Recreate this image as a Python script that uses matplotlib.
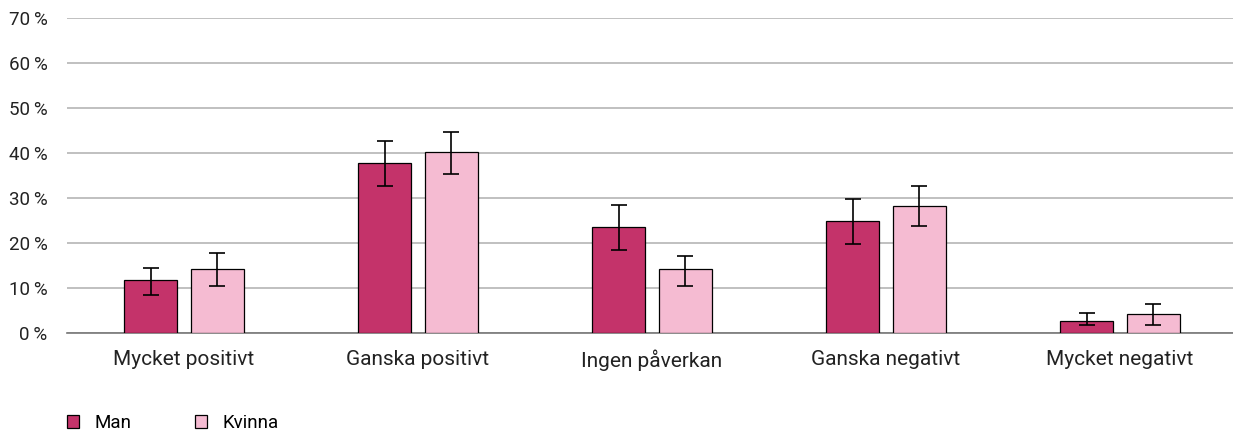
import numpy as np
import matplotlib.pyplot as plt
from matplotlib.patches import Patch

plt.rcParams['font.family'] = ['Roboto', 'DejaVu Sans']

categories = ['Mycket positivt', 'Ganska positivt', 'Ingen påverkan', 'Ganska negativt', 'Mycket negativt']
series = ['Man', 'Kvinna']
man = [11.7, 37.7, 23.6, 24.9, 2.7]
man_lo = [8.4, 32.6, 18.4, 19.8, 1.8]
man_hi = [14.4, 42.7, 28.4, 29.8, 4.4]
kvinna = [14.2, 40.3, 14.2, 28.2, 4.2]
kvinna_lo = [10.4, 35.3, 10.4, 23.8, 1.8]
kvinna_hi = [17.8, 44.7, 17.1, 32.7, 6.4]
yticks = [0, 10, 20, 30, 40, 50, 60, 70]

colors = ['#c4336a', '#f5bbd2']

fig = plt.figure(figsize=(12.33, 4.34), dpi=100)
# axes runs a little past the right edge of the figure, as in the original
ax = fig.add_axes([67/1233, 1-333/434, 1170/1233, (333-18)/434])

X = np.arange(len(categories))
w = 0.225
off = 0.142

for vals, lo, hi, dx, c in [(man, man_lo, man_hi, -off, colors[0]),
                            (kvinna, kvinna_lo, kvinna_hi, off, colors[1])]:
    vals = np.array(vals)
    err = [vals - np.array(lo), np.array(hi) - vals]
    ax.bar(X + dx, vals, width=w, color=c, edgecolor='black', linewidth=0.9, zorder=3)
    ax.errorbar(X + dx, vals, yerr=err, fmt='none', ecolor='black', elinewidth=1.2,
                capsize=5.5, capthick=1.2, zorder=4)

ax.set_xlim(-0.5, len(categories) - 0.5)
ax.set_ylim(0, 70)
ax.set_yticks(yticks)
ax.set_yticklabels(['%d\u2009%%' % t for t in yticks], fontsize=13.5, color='#222222')
ax.set_xticks(X)
ax.set_xticklabels(categories, fontsize=15, color='#222222')
ax.tick_params(axis='both', length=0)
ax.tick_params(axis='y', pad=14)
ax.tick_params(axis='x', pad=12)
ax.grid(axis='y', color='#b5b5b5', linewidth=1.2, zorder=0)
for s in ['top', 'right', 'left']:
    ax.spines[s].set_visible(False)
ax.spines['bottom'].set_color('#777777')
ax.spines['bottom'].set_linewidth(1.2)

handles = [Patch(facecolor=colors[i], edgecolor='black', linewidth=0.9, label=series[i]) for i in range(2)]
fig.legend(handles=handles, loc='lower left', bbox_to_anchor=(67/1233, 2/434), ncol=2, frameon=False,
           borderaxespad=0, borderpad=0,
           fontsize=13.5, handlelength=0.65, handleheight=0.65, handletextpad=0.8, columnspacing=3.4)

plt.savefig('out.png', dpi=100)
